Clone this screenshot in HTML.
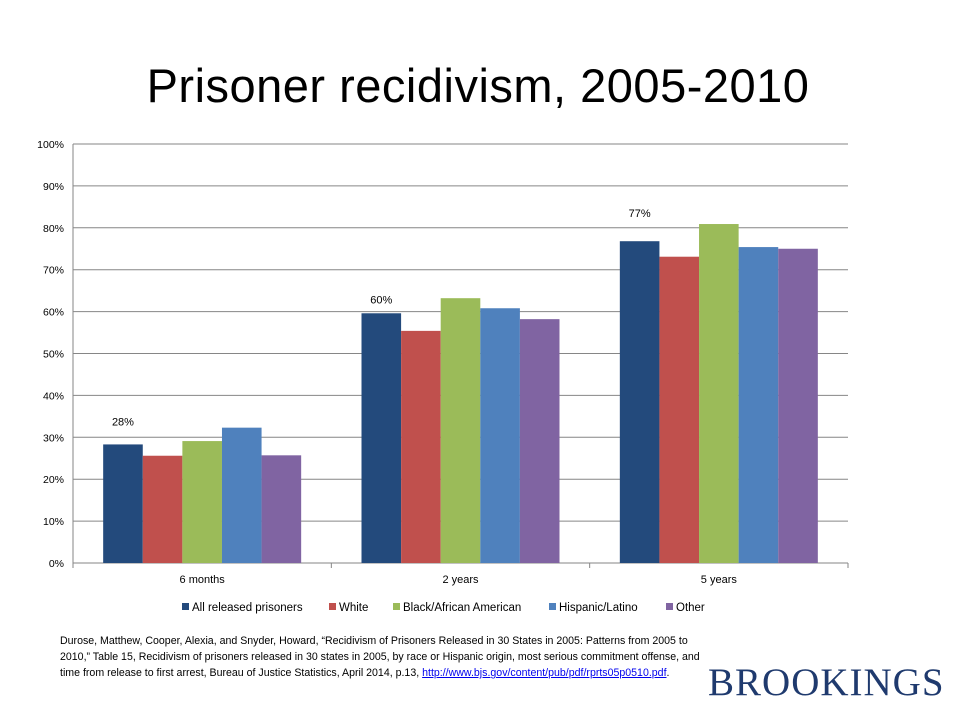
<!DOCTYPE html>
<html><head><meta charset="utf-8"><style>
body{margin:0;width:956px;height:713px;background:#fff;overflow:hidden;font-family:"Liberation Sans",sans-serif;position:relative}
#title{position:absolute;left:0;width:956px;top:58px;text-align:center;font-size:47px;color:#000;letter-spacing:0.5px}
#foot{position:absolute;left:60px;top:633px;width:650px;font-size:10.6px;line-height:16px;color:#000;font-weight:500}
#foot a{color:#0000ee;text-decoration:underline}
#brand{position:absolute;left:708px;top:660px;font-family:"Liberation Serif",serif;font-size:39px;color:#1f3a6e;letter-spacing:1px}
</style></head><body>
<div id="title">Prisoner recidivism, 2005-2010</div>
<svg id="chart" width="956" height="630" style="position:absolute;left:0;top:0"></svg>
<div id="foot">Durose, Matthew, Cooper, Alexia, and Snyder, Howard, “Recidivism of Prisoners Released in 30 States in 2005: Patterns from 2005 to 2010,” Table 15, Recidivism of prisoners released in 30 states in 2005, by race or Hispanic origin, most serious commitment offense, and time from release to first arrest, Bureau of Justice Statistics, April 2014, p.13, <a>http://www.bjs.gov/content/pub/pdf/rprts05p0510.pdf</a>.</div>
<div id="brand">BROOKINGS</div>
<script>
const categories=["6 months","2 years","5 years"];
const seriesNames=["All released prisoners","White","Black/African American","Hispanic/Latino","Other"];
const allReleased=[28.3,59.6,76.8];
const white=[25.6,55.4,73.1];
const black=[29.1,63.2,80.9];
const hispanic=[32.3,60.8,75.4];
const other=[25.7,58.2,75.0];
const labels=["28%","60%","77%"];
const yTicks=[0,10,20,30,40,50,60,70,80,90,100];
const series=[allReleased,white,black,hispanic,other];
const colors=["#234a7c","#c0504d","#9bbb59","#4f81bd","#8064a2"];
const svg=document.getElementById('chart');
const NS="http://www.w3.org/2000/svg";
const L=73,R=848,T=144,B=563;
const y=v=>B-(B-T)*v/100;
const gw=(R-L)/categories.length, bw=39.6, off=(gw-bw*5)/2;
const x=(c,s)=>L+c*gw+off+s*bw;
function mk(t,a){const e=document.createElementNS(NS,t);for(const k in a)e.setAttribute(k,a[k]);svg.appendChild(e);return e;}
yTicks.forEach(v=>{
  const g=mk('line',{x1:L,x2:R,y1:y(v),y2:y(v),stroke:'#868686','stroke-width':1});
  
  
  const t=mk('text',{x:L-9,y:y(v)+4,'text-anchor':'end','font-size':10.5,fill:'#000'});
  t.textContent=v+'%';
  
  
});
const ax=mk('line',{x1:L,x2:L,y1:T,y2:B,stroke:'#868686'});


for(let c=0;c<=categories.length;c++){
  const tk=mk('line',{x1:L+c*gw,x2:L+c*gw,y1:B,y2:B+5,stroke:'#868686'});
  
  
}
const labelOffsets=[-19,-10,-24];
categories.forEach((cat,c)=>{
  series.forEach((s,i)=>{
    const r=mk('rect',{x:x(c,i),y:y(s[c]),width:bw,height:B-y(s[c]),fill:colors[i]});
    
    
  });
  const lt=mk('text',{x:x(c,0)+bw/2,y:y(allReleased[c])+labelOffsets[c],'text-anchor':'middle','font-size':11,fill:'#000'});
  lt.textContent=labels[c];
  
  
  const ct=mk('text',{x:L+c*gw+gw/2,y:B+20,'text-anchor':'middle','font-size':11,fill:'#000'});
  ct.textContent=cat;
  
  
});
const lx=[182,329,393,549,666];
seriesNames.forEach((n,i)=>{
  const r=mk('rect',{x:lx[i],y:603,width:7,height:7,fill:colors[i]});
  
  
  const t=mk('text',{x:lx[i]+10,y:611,'font-size':11.5,fill:'#000'});
  t.textContent=n;
  
  
});
</script>
</body></html>
